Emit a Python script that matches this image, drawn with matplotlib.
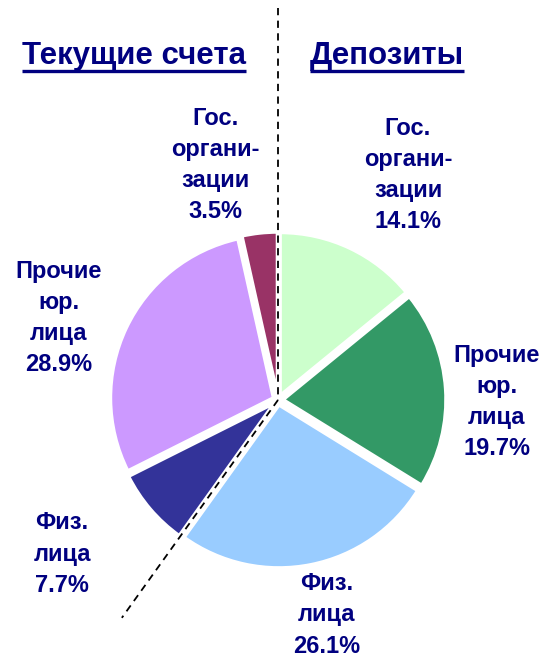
import matplotlib
matplotlib.use("Agg")
import numpy as np
import matplotlib.pyplot as plt

plt.rcParams["font.family"] = ["Liberation Sans", "DejaVu Sans"]

W, H = 543, 660
NAVY = "#000080"

# clockwise from 12 o'clock: deposits first, then current accounts
labels = ["Гос.\nоргани-\nзации", "Прочие\nюр.\nлица", "Физ.\nлица",
          "Физ.\nлица", "Прочие\nюр.\nлица", "Гос.\nоргани-\nзации"]
shares = [14.1, 19.7, 26.1, 7.7, 28.9, 3.5]
colors = ["#CCFFCC", "#339966", "#99CCFF", "#333399", "#CC99FF", "#993366"]
groups = ["Текущие счета", "Депозиты"]
n_deposit = 3

# label positions in pixels (x, y from top)
label_pos = [(408, 175), (497, 402), (327, 615), (62, 554), (59, 318), (215, 165)]

cx, cy, r = 278, 400, 163

fig = plt.figure(figsize=(W / 100, H / 100), dpi=100)
ax = fig.add_axes([0, 0, 1, 1])

ax.pie(shares, colors=colors, startangle=90, counterclock=False,
       center=(cx, H - cy), radius=r, explode=[5] * len(shares),
       wedgeprops=dict(edgecolor="white", linewidth=2.5), frame=True)
ax.set_xlim(0, W)
ax.set_ylim(0, H)
ax.set_aspect("equal")
ax.axis("off")

for lab, val, (px, py) in zip(labels, shares, label_pos):
    ax.text(px, H - py, f"{lab}\n{val:.1f}%", ha="center", va="center",
            fontsize=17, fontweight="bold", color=NAVY, linespacing=1.45)

# dashed split lines: vertical at top, then along deposits/current boundary
ax.plot([cx, cx], [H - 8, H - cy], ls=(0, (4, 3)), color="black", lw=1.3)
bound = np.deg2rad(90 - 360 * sum(shares[:n_deposit]) / sum(shares))
L = 268
ax.plot([cx, cx + L * np.cos(bound)], [H - cy, H - cy + L * np.sin(bound)],
        ls=(0, (4, 3)), color="black", lw=1.3)

# group titles, underlined
fig.canvas.draw()
renderer = fig.canvas.get_renderer()
for title, tx in zip(groups, [134, 387]):
    t = ax.text(tx, H - 56, title, ha="center", va="center", fontsize=22.5,
                fontweight="bold", color=NAVY)
    bb = t.get_window_extent(renderer).transformed(ax.transData.inverted())
    ax.plot([bb.x0, bb.x1], [H - 71, H - 71], color=NAVY, lw=2.4,
            solid_capstyle="butt")

fig.savefig("out.png", dpi=100)
